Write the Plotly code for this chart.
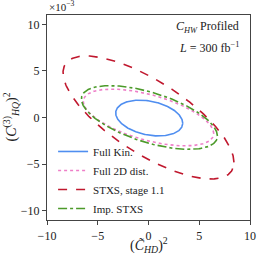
import numpy as np
import plotly.graph_objects as go

# Ellipse parameters (y in units of 1e-3)
labels = ["Full Kin.", "Full 2D dist.", "STXS, stage 1.1", "Imp. STXS"]
center_x = [0.07, 0.0, 0.0, 0.09]
center_y = [-0.06, 0.0, 0.0, 0.0]
sigma_xx = [10.9, 41.3, 70.9, 44.9]
sigma_xy = [-1.8, -11.0, -40.5, -13.3]
sigma_yy = [3.69, 9.3, 43.6, 11.7]
colors = ["#4f8ef0", "#ee7fc8", "#c0182e", "#4c9a2a"]
dashes = ["solid", "dot", "dash", "dashdot"]

x_ticks = [-10, -5, 0, 5, 10]
y_ticks = [-10, -5, 0, 5, 10]

t = np.linspace(0, 2 * np.pi, 400)
fig = go.Figure()
for i in range(4):
    cov = np.array([[sigma_xx[i], sigma_xy[i]], [sigma_xy[i], sigma_yy[i]]])
    L = np.linalg.cholesky(cov)
    pts = L @ np.vstack([np.cos(t), np.sin(t)])
    fig.add_trace(go.Scatter(
        x=pts[0] + center_x[i], y=pts[1] + center_y[i], mode="lines",
        name=labels[i],
        line=dict(color=colors[i], width=1.6, dash=dashes[i]),
    ))

fam = "Liberation Serif, DejaVu Serif, serif"
font = dict(family=fam, size=12, color="#222")
axis_common = dict(showgrid=False, zeroline=False, showline=True, mirror=True,
                   linecolor="#444", linewidth=1.2, ticks="outside", ticklen=4,
                   tickcolor="#444", tickfont=font, automargin=False)
fig.update_xaxes(range=[-10, 10], tickvals=x_ticks, **axis_common)
fig.update_yaxes(range=[-11, 11], tickvals=y_ticks, **axis_common)
fig.update_layout(
    width=262, height=262,
    margin=dict(l=47, r=12, t=15, b=42),
    paper_bgcolor="white", plot_bgcolor="white",
    font=font,
    legend=dict(x=0.03, y=0.405, xanchor="left", yanchor="top",
                bgcolor="rgba(255,255,255,0)", font=dict(family=fam, size=11, color="#222"),
                itemwidth=30, tracegroupgap=0),
    annotations=[
        dict(text="(<i>C\u0303</i><sub><i>HD</i></sub>)<sup>2</sup>", xref="paper", yref="paper",
             x=0.5, y=0, yshift=-25, xanchor="center", yanchor="middle", showarrow=False,
             font=dict(family=fam, size=14, color="#222")),
        dict(text="(<i>C</i><sup>(3)</sup><sub><i>HQ</i></sub>)<sup>2</sup>", xref="paper", yref="paper",
             x=0, xshift=-36, y=0.5, xanchor="center", yanchor="middle", textangle=-90,
             showarrow=False, font=dict(family=fam, size=14, color="#222")),
        dict(text="<i>C</i><sub><i>HW</i></sub> Profiled", xref="paper", yref="paper",
             x=0.955, y=0.94, xanchor="right", yanchor="middle", showarrow=False,
             font=dict(family=fam, size=12, color="#222")),
        dict(text="<i>L</i> = 300 fb<sup>\u22121</sup>", xref="paper", yref="paper",
             x=0.955, y=0.84, xanchor="right", yanchor="middle", showarrow=False,
             font=dict(family=fam, size=12, color="#222")),
        dict(text="\u00d710<sup>\u22123</sup>", xref="paper", yref="paper",
             x=0.0, y=1.0, xanchor="left", yanchor="bottom", showarrow=False,
             font=dict(family=fam, size=11, color="#222")),
    ],
)
fig.write_html("out.html", config={"displayModeBar": False},
               post_script="document.body.style.margin='0';")
